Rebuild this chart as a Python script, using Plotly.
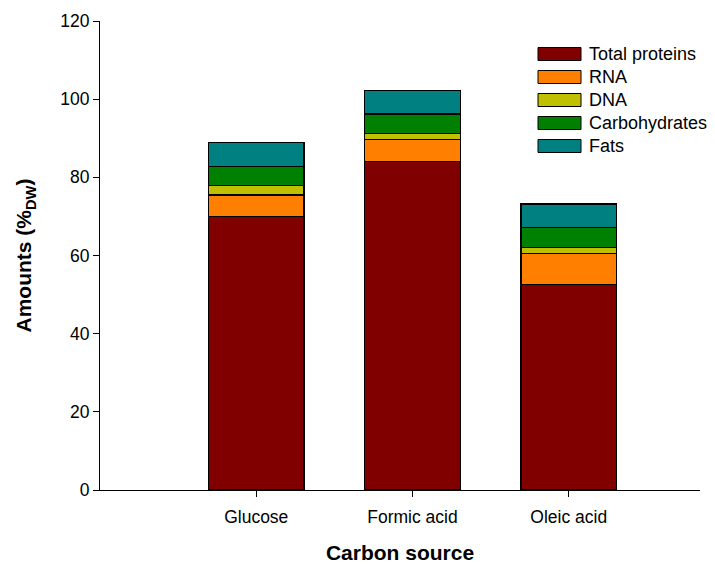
import plotly.graph_objects as go

# Cell composition (% of dry weight)
sources = ["Glucose", "Formic acid", "Oleic acid"]
proteins = [70.0, 84.1, 52.5]
rna = [5.5, 5.5, 8.0]
dna = [2.4, 1.6, 1.6]
carbs = [4.9, 5.0, 5.0]
fats = [6.1, 6.0, 6.1]

series = [
    ("Total proteins", proteins, "#800000"),
    ("RNA", rna, "#FF8000"),
    ("DNA", dna, "#C0C000"),
    ("Carbohydrates", carbs, "#008000"),
    ("Fats", fats, "#008080"),
]

fig = go.Figure()
for name, vals, color in series:
    fig.add_trace(go.Bar(
        x=[0, 1, 2], y=vals, name=name,
        width=0.61,
        marker=dict(color=color, line=dict(color="black", width=1.2)),
    ))

# page body has an 8px margin, so the figure sits 8px in from the window
OFF = 8
FW, FH = 715 - OFF, 564 - OFF
L, T, W, H = 100 - OFF, 21 - OFF, 600, 469  # plot area in figure px


def px(x):
    return (x - OFF - L) / W


def py(y):
    return (T + H - (y - OFF)) / H


# SigmaPlot-style legend: wide swatches drawn in paper space
for n, (name, _, color) in enumerate(series):
    yc = 54 + 23 * n
    fig.add_shape(type="rect", xref="paper", yref="paper",
                  x0=px(538), x1=px(581), y0=py(yc - 6.5), y1=py(yc + 6.5),
                  fillcolor=color, line=dict(color="black", width=1))
    fig.add_annotation(xref="paper", yref="paper", x=px(587), y=py(yc),
                       xanchor="left", yanchor="middle", showarrow=False,
                       text=name, font=dict(size=18))

fig.update_layout(
    barmode="stack",
    width=FW, height=FH,
    margin=dict(l=L, r=FW - L - W, t=T, b=FH - T - H),
    plot_bgcolor="white", paper_bgcolor="white",
    font=dict(family="Liberation Sans, Arial, sans-serif", size=17.5, color="black"),
    showlegend=False,
    xaxis=dict(
        range=[-1, 2.84], automargin=False,
        tickvals=[0, 1, 2], ticktext=sources,
        ticks="outside", ticklen=6, tickcolor="black",
        ticklabelstandoff=5,
        showline=True, linecolor="black", linewidth=1,
        showgrid=False, zeroline=False,
        title=dict(text="<b>Carbon source</b>", font=dict(size=21), standoff=20),
    ),
    yaxis=dict(
        range=[0, 120], dtick=20, automargin=False,
        ticks="outside", ticklen=6, tickcolor="black",
        showline=True, linecolor="black", linewidth=1,
        showgrid=False, zeroline=False,
        title=dict(text="<b>Amounts (%<sub>DW</sub>)</b>", font=dict(size=21), standoff=22),
    ),
)

fig.write_html("out.html")
